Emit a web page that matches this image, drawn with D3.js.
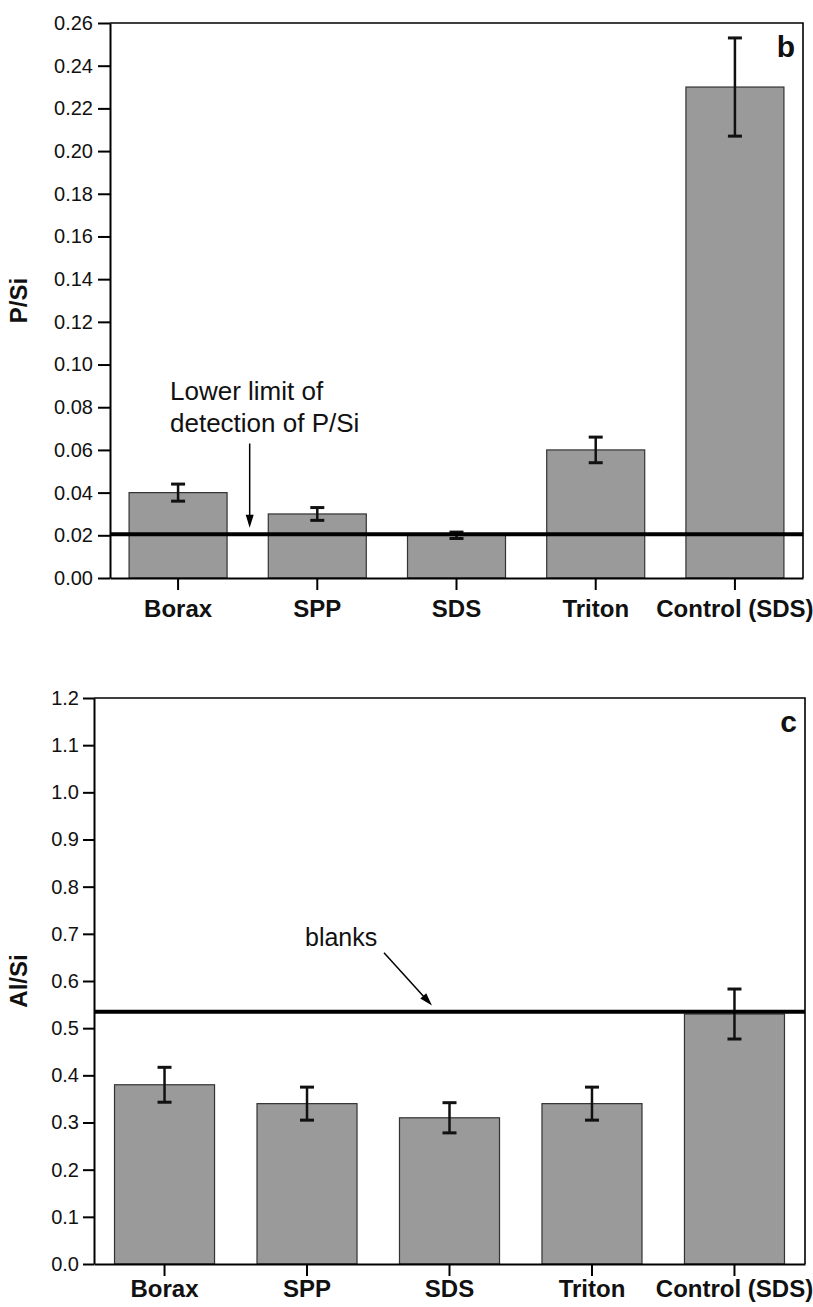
<!DOCTYPE html>
<html>
<head>
<meta charset="utf-8">
<script src="https://cdn.jsdelivr.net/npm/d3@7"></script>
<style>
body { margin: 0; background: #fff; }
text { font-family: "Liberation Sans", Arial, sans-serif; fill: #111; }
</style>
</head>
<body>
<svg id="chart" width="813" height="1307"></svg>
<script>
var categories = ["Borax", "SPP", "SDS", "Triton", "Control (SDS)"];

// panel b : P/Si
var psiValues = [0.040, 0.030, 0.020, 0.060, 0.230];
var psiErrors = [0.004, 0.003, 0.0015, 0.006, 0.023];
var psiTicks = [0, 0.02, 0.04, 0.06, 0.08, 0.10, 0.12, 0.14, 0.16, 0.18, 0.20, 0.22, 0.24, 0.26];
var psiLimit = 0.0205;

// panel c : Al/Si
var alsiValues = [0.38, 0.34, 0.31, 0.34, 0.53];
var alsiErrors = [0.037, 0.035, 0.032, 0.035, 0.053];
var alsiTicks = [0, 0.1, 0.2, 0.3, 0.4, 0.5, 0.6, 0.7, 0.8, 0.9, 1.0, 1.1, 1.2];
var alsiBlanks = 0.535;

var svg = d3.select("#chart");

function drawPanel(p){

  var x = d3.scaleBand().domain(categories)
            .range([p.left, p.right])
            .paddingInner(p.padIn).paddingOuter(p.padOut);
  var y = d3.scaleLinear().domain([0, p.ticks[p.ticks.length-1]])
            .range([p.bottom, p.top]);

  var rows = categories.map(function(c, i){ return {cat: c, v: p.values[i], e: p.errors[i]}; });
  var g = svg.append("g");

  g.selectAll("rect.bar").data(rows).enter()
   .append("rect")
   .attr("class", "bar")
   .attr("x", function(d){ return x(d.cat); })
   .attr("width", x.bandwidth())
   .attr("y", function(d){ return y(d.v); })
   .attr("height", function(d){ return y(0) - y(d.v); })
   .attr("fill", "#9a9a9a")
   .attr("stroke", "#333")
   .attr("stroke-width", 1.2);

  var eb = g.selectAll("g.err").data(rows).enter().append("g")
            .attr("class", "err")
            .attr("stroke", "#111");
  eb.append("line")
    .attr("x1", function(d){ return x(d.cat) + x.bandwidth()/2; })
    .attr("x2", function(d){ return x(d.cat) + x.bandwidth()/2; })
    .attr("y1", function(d){ return y(d.v - d.e); })
    .attr("y2", function(d){ return y(d.v + d.e); })
    .attr("stroke-width", 2.5);
  [1, -1].forEach(function(s){
    eb.append("line")
      .attr("x1", function(d){ return x(d.cat) + x.bandwidth()/2 - 7; })
      .attr("x2", function(d){ return x(d.cat) + x.bandwidth()/2 + 7; })
      .attr("y1", function(d){ return y(d.v + s*d.e); })
      .attr("y2", function(d){ return y(d.v + s*d.e); })
      .attr("stroke-width", 3);
  });

  // reference line
  g.append("line")
   .attr("x1", p.left).attr("x2", p.right)
   .attr("y1", y(p.ref)).attr("y2", y(p.ref))
   .attr("stroke", "#000").attr("stroke-width", 4);

  var ya = g.append("g")
            .attr("transform", "translate(" + p.left + ",0)")
            .call(d3.axisLeft(y).tickValues(p.ticks)
                    .tickFormat(d3.format(p.fmt))
                    .tickSize(p.tick).tickSizeOuter(0).tickPadding(p.tickPad));
  ya.selectAll("text").style("font-size", "20px");

  var xa = g.append("g")
            .attr("transform", "translate(0," + p.bottom + ")")
            .call(d3.axisBottom(x).tickSize(12).tickSizeOuter(0).tickPadding(p.xPad));
  xa.selectAll("text").style("font-size", "24px").style("font-weight", "bold");

  g.selectAll(".domain").attr("stroke-width", 2);
  g.selectAll(".tick line").attr("stroke-width", 2);

  // top and right frame
  g.append("path")
   .attr("d", "M" + p.left + "," + p.top + "H" + p.right + "V" + p.bottom)
   .attr("fill", "none").attr("stroke", "#000").attr("stroke-width", 1.6);

  g.append("text")
   .attr("x", p.right - 8).attr("y", p.top + 34)
   .attr("text-anchor", "end")
   .style("font-size", "30px").style("font-weight", "bold")
   .text(p.letter);

  g.append("text")
   .attr("transform", "translate(" + 27 + "," + (p.top + p.bottom)/2 + ") rotate(-90)")
   .attr("text-anchor", "middle")
   .style("font-size", "24px").style("font-weight", "bold")
   .text(p.title);

  return {x: x, y: y, g: g};
}

function arrow(g, x1, y1, x2, y2){
  var a = Math.atan2(y2 - y1, x2 - x1), L = 13, W = 4;
  g.append("line")
   .attr("x1", x1).attr("y1", y1)
   .attr("x2", x2 - (L-2)*Math.cos(a)).attr("y2", y2 - (L-2)*Math.sin(a))
   .attr("stroke", "#000").attr("stroke-width", 1.5);
  var bx = x2 - L*Math.cos(a), by = y2 - L*Math.sin(a);
  g.append("path")
   .attr("d", "M" + x2 + "," + y2 +
              "L" + (bx + W*Math.sin(a)) + "," + (by - W*Math.cos(a)) +
              "L" + (bx - W*Math.sin(a)) + "," + (by + W*Math.cos(a)) + "Z")
   .attr("fill", "#000");
}

var pb = drawPanel({left: 110, right: 803, top: 23, bottom: 578,
                    padIn: 0.296, padOut: 0.137,
                    values: psiValues, errors: psiErrors, ticks: psiTicks,
                    ref: psiLimit, fmt: ".2f", tick: 12, tickPad: 5, xPad: 10,
                    letter: "b", title: "P/Si"});

var pc = drawPanel({left: 94, right: 805, top: 698, bottom: 1264,
                    padIn: 0.298, padOut: 0.144,
                    values: alsiValues, errors: alsiErrors, ticks: alsiTicks,
                    ref: alsiBlanks, fmt: ".1f", tick: 11, tickPad: 4, xPad: 4,
                    letter: "c", title: "Al/Si"});

// annotation panel b
var gapX = (pb.x("Borax") + pb.x.bandwidth() + pb.x("SPP")) / 2;
var note = pb.g.append("text").style("font-size", "26px");
note.append("tspan").attr("x", 170).attr("y", 400).text("Lower limit of");
note.append("tspan").attr("x", 170).attr("y", 432).text("detection of P/Si");
arrow(pb.g, gapX + 2, pb.y(0.063), gapX + 2, pb.y(0.0235));

// annotation panel c
pc.g.append("text").attr("x", 305).attr("y", 946)
    .style("font-size", "25px").text("blanks");
arrow(pc.g, 384, pc.y(0.66), 432, pc.y(0.548));
</script>
</body>
</html>
